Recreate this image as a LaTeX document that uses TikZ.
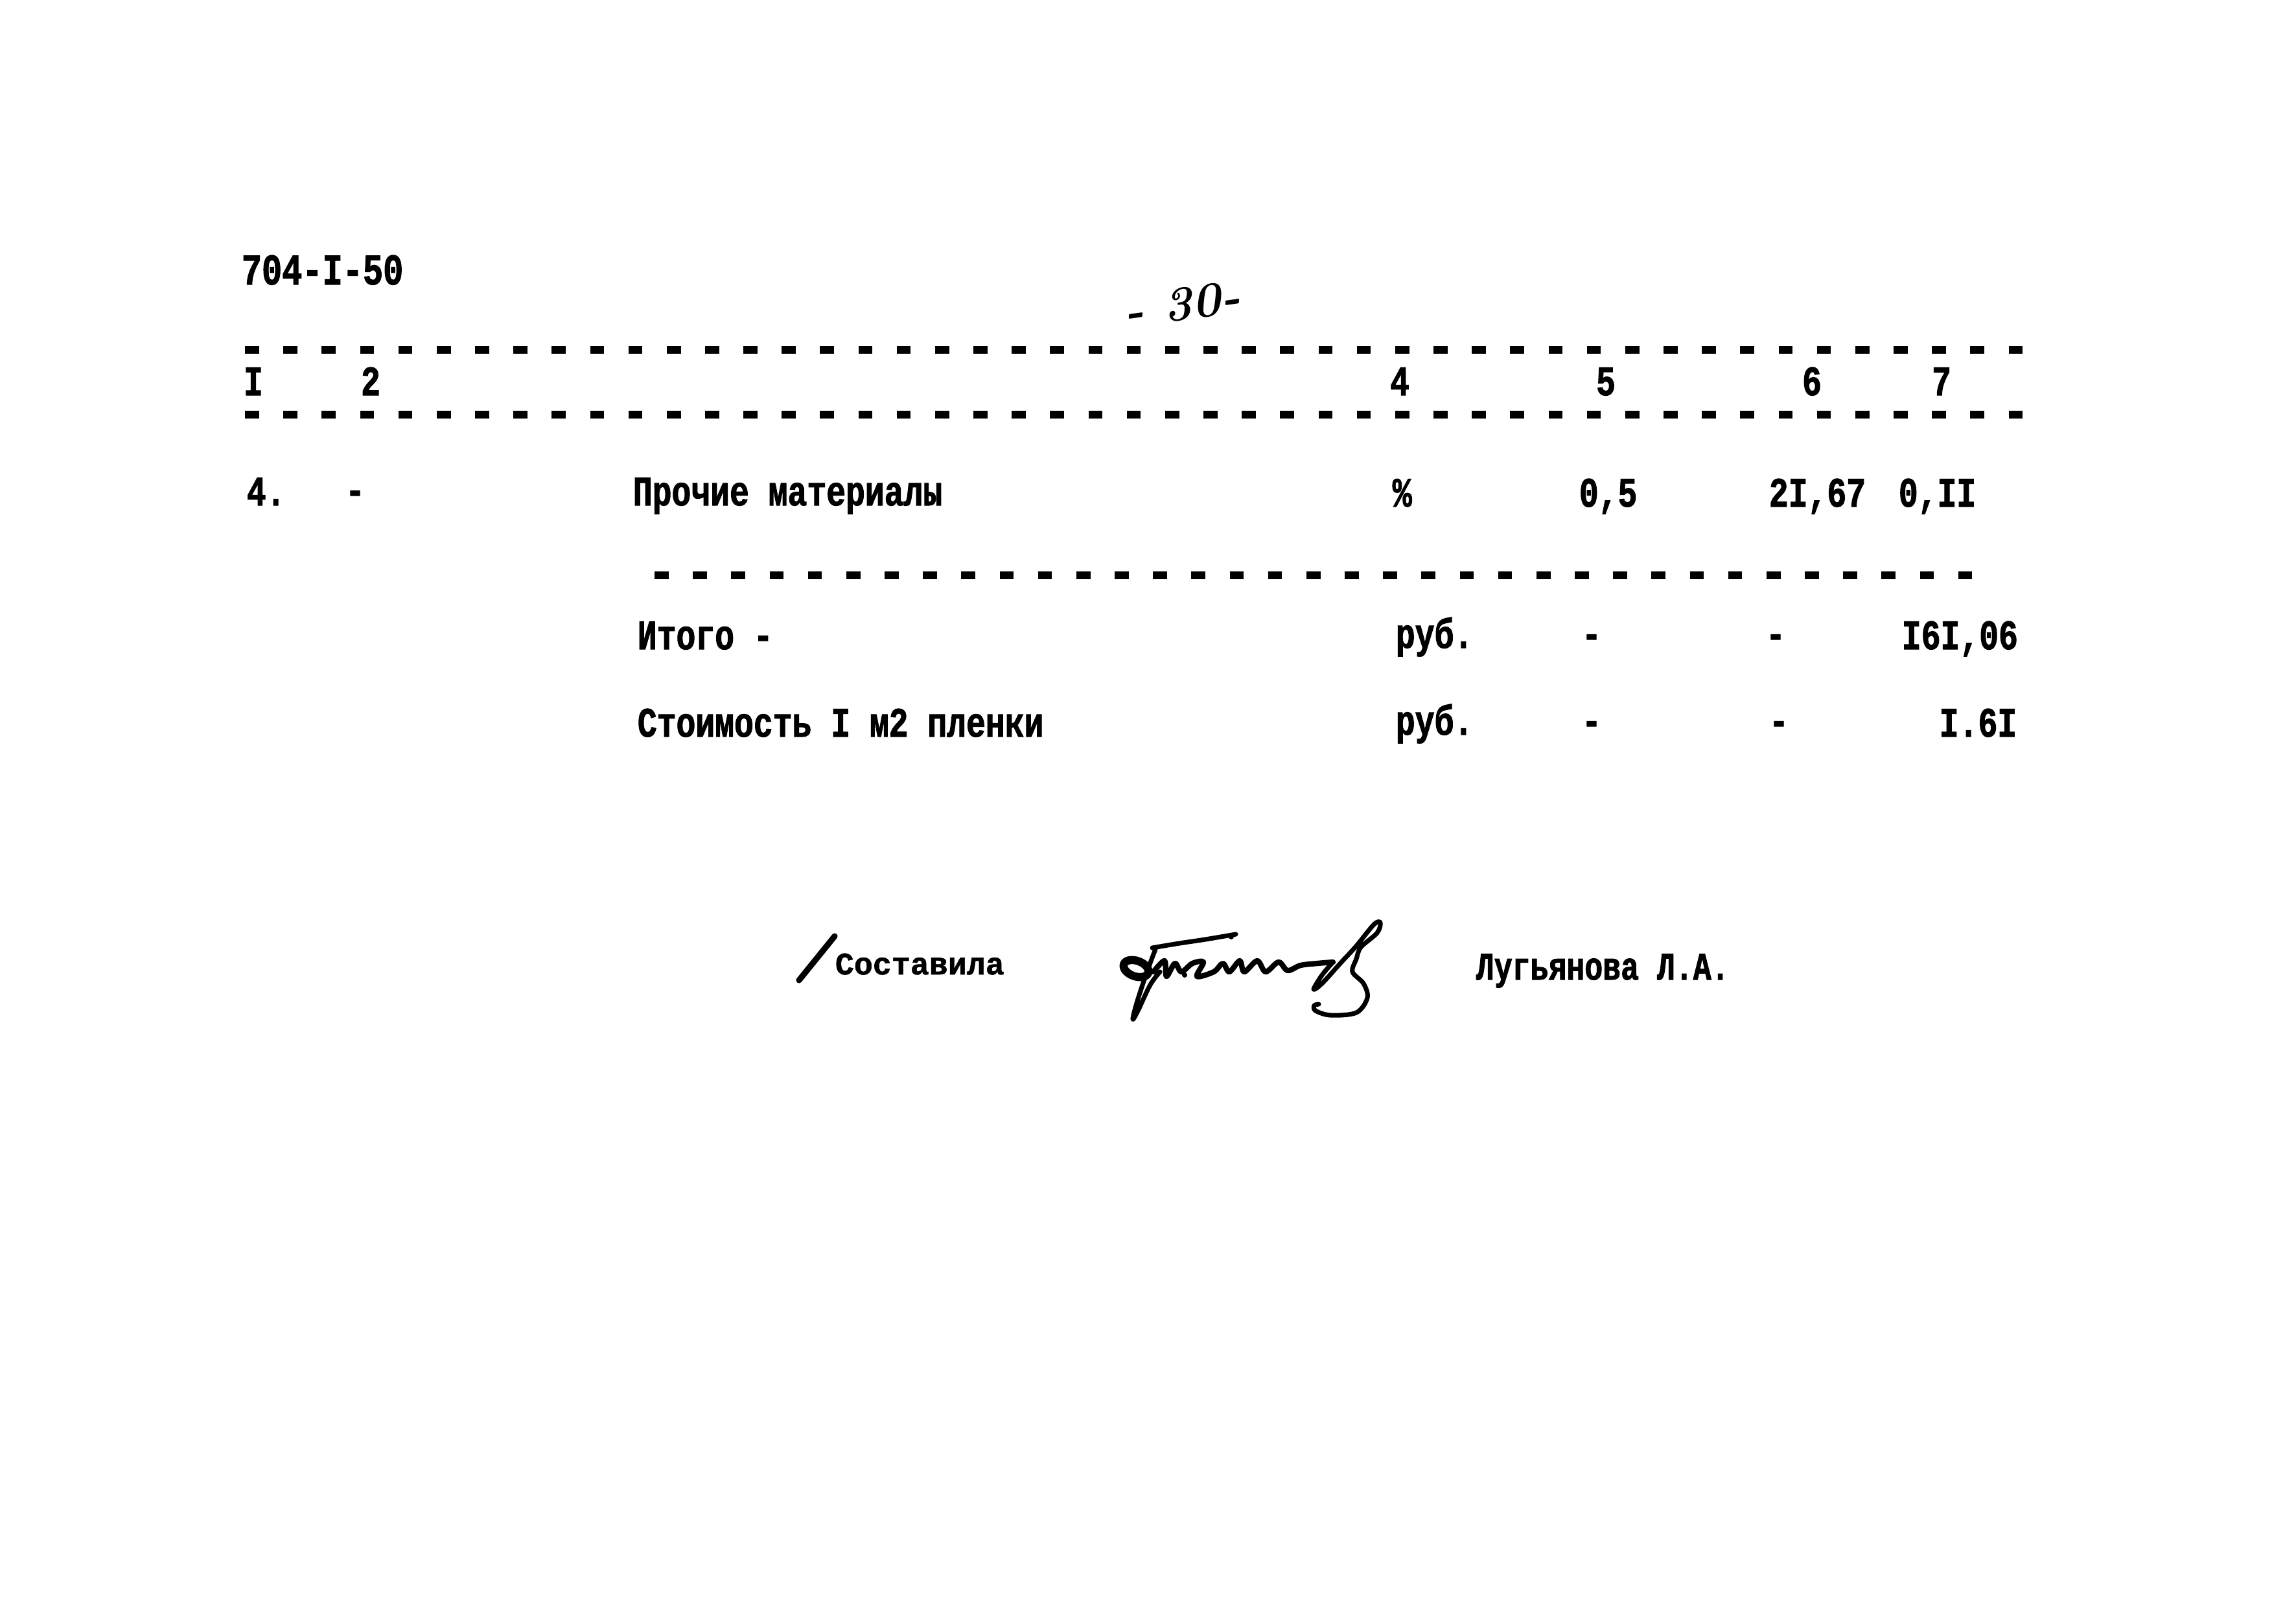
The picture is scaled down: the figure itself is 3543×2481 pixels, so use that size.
\documentclass[tikz,border=0pt]{standalone}
\usepackage{fontspec}
\newfontfamily\tw[FakeStretch=0.77,FakeBold=1.6]{Liberation Mono}
\newfontfamily\twb[FakeStretch=1.0,FakeBold=1.2]{Liberation Mono}
\begin{document}
\begin{tikzpicture}[x=0.24pt,y=-0.24pt,
  tw/.style={font=\tw\bfseries\fontsize{15.5}{18}\selectfont, inner sep=0pt, anchor=base west},
  twc/.style={tw, anchor=base},
  sig/.style={line width=1.7pt, line cap=round, line join=round},
  rule/.style={line width=2.7pt, dash pattern=on 5.2pt off 9pt}]
\fill[white] (0,0) rectangle (3543,2481);
\path[use as bounding box] (0,0) rectangle (3543,2481);

% header code and page number
\node[tw, font=\tw\bfseries\fontsize{16.2}{19}\selectfont] (code) at (372,439) {704-I-50};
\node[font=\bfseries\itshape\fontsize{18}{20}\selectfont, inner sep=0pt, rotate=8] (page) at (1824,470) {- 30-};

% rules
\draw[rule] (378,540) -- (3152,540);
\draw[rule] (378,640) -- (3152,640);

% column numbers
\node[twc] (h1) at (391,610) {I};
\node[twc] (h2) at (572,610) {2};
\node[twc] (h4) at (2160,610) {4};
\node[twc] (h5) at (2478,610) {5};
\node[twc] (h6) at (2796,610) {6};
\node[twc] (h7) at (2996,610) {7};

% row 4
\node[tw] (r4num) at (380,780) {4.};
\node[twc] (r4dash) at (548,778) {-};
\node[tw] (r4name) at (976,780) {Прочие материалы};
\node[tw] (r4unit) at (2148,782) {\%};
\node[tw] (r4qty) at (2436,782) {0,5};
\node[tw] (r4price) at (2729,782) {2I,67};
\node[tw] (r4sum) at (2929,782) {0,II};

\draw[rule] (1010,888) -- (3066,888);

% totals
\node[tw] (tot) at (983,1002) {Итого -};
\node[tw] (tunit) at (2153,1000) {руб.};
\node[twc] (td1) at (2456,1000) {-};
\node[twc] (td2) at (2740,1000) {-};
\node[tw] (tsum) at (2934,1002) {I6I,06};

\node[tw] (cost) at (983,1137) {Стоимость I м2 пленки};
\node[tw] (cunit) at (2153,1134) {руб.};
\node[twc] (cd1) at (2456,1134) {-};
\node[twc] (cd2) at (2745,1134) {-};
\node[tw] (csum) at (2992,1137) {I.6I};

% signature line
\draw[line width=2.2pt, line cap=round] (1233,1513) -- (1288,1445);
\node[font=\twb\bfseries\fontsize{11.6}{13}\selectfont, inner sep=0pt, anchor=base west] (comp) at (1288,1504) {Составила};
\node[font=\tw\bfseries\fontsize{14.5}{17}\selectfont, inner sep=0pt, anchor=base west] (name) at (2277,1512) {Лугьянова Л.А.};

% handwritten signature
\draw[sig, line width=3pt, rotate around={-20:(1753,1495)}] (1753,1495) ellipse (20 and 12);
\draw[sig] plot[smooth, tension=0.6] coordinates {(1783,1465) (1770,1500) (1755,1545) (1748,1573) (1756,1560) (1775,1520) (1790,1500)};
\draw[sig] plot[smooth, tension=0.5] coordinates {(1778,1463) (1820,1456) (1860,1450) (1907,1442)};
\fill (1900,1446) circle (4);
\draw[sig, line width=2pt] plot[smooth, tension=0.55] coordinates {(1780,1500) (1797,1483) (1800,1507) (1813,1487) (1823,1500) (1840,1487) (1857,1485) (1847,1507) (1873,1500) (1887,1487) (1897,1500) (1913,1483) (1920,1500) (1940,1483) (1953,1500) (1973,1485) (1987,1498) (2007,1490) (2033,1487) (2057,1485)};
\fill (1828,1505) circle (4);
\draw[sig] plot[smooth, tension=0.55] coordinates {(2057,1485) (2040,1505) (2027,1527) (2040,1518) (2070,1485) (2093,1460) (2120,1427) (2130,1424) (2125,1440) (2100,1462) (2093,1480) (2087,1500) (2104,1518) (2110,1540) (2093,1563) (2053,1567) (2030,1560) (2028,1552) (2035,1550)};
\end{tikzpicture}
\end{document}
